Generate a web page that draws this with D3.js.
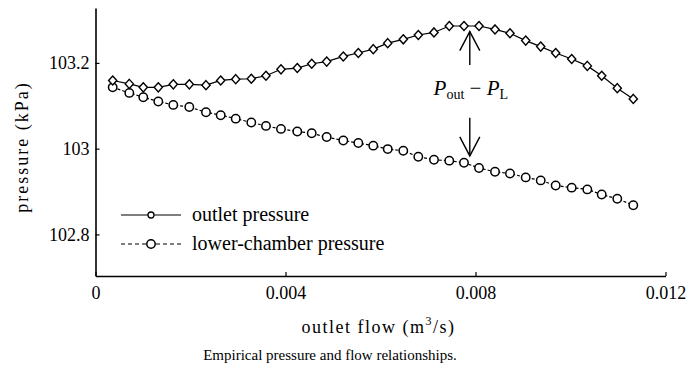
<!DOCTYPE html>
<html>
<head>
<meta charset="utf-8">
<script src="https://cdn.jsdelivr.net/npm/d3@7"></script>
<style>
  html, body { margin: 0; padding: 0; background: #fff; }
  svg { display: block; }
  svg text { font-family: "Liberation Serif", "Times New Roman", serif; fill: #000; }
  .tick text { font-size: 18px; }
  .ytitle { font-size: 18px; letter-spacing: 2px; }
  .xtitle { font-size: 18px; letter-spacing: 1.5px; }
  .caption { font-size: 15px; }
  .legend text { font-size: 20px; }
  .note { font-size: 21px; }
</style>
</head>
<body>
<svg id="chart" width="689" height="369"></svg>
<script>
// Outlet flow (m^3/s) at each measurement
const flow = [0.000362, 0.000712, 0.001006, 0.001322, 0.001638, 0.001975, 0.002326, 0.002636, 0.002952,
  0.003280, 0.003589, 0.003905, 0.004248, 0.004552, 0.004867, 0.005217, 0.005533, 0.005848, 0.006152,
  0.006480, 0.006796, 0.007126, 0.007448, 0.007758, 0.008074, 0.008411, 0.008726, 0.009057, 0.009373,
  0.009688, 0.010025, 0.010354, 0.010657, 0.010985, 0.011322];

// Outlet pressure (kPa)
const outletPressure = [103.159, 103.151, 103.143, 103.143, 103.150, 103.150, 103.148, 103.159, 103.162,
  103.163, 103.170, 103.185, 103.188, 103.198, 103.203, 103.215, 103.223, 103.232, 103.246,
  103.255, 103.265, 103.271, 103.286, 103.286, 103.286, 103.278, 103.269, 103.252, 103.238,
  103.223, 103.209, 103.193, 103.170, 103.141, 103.116];

// Lower-chamber pressure (kPa)
const lowerPressure = [103.143, 103.130, 103.120, 103.110, 103.102, 103.097, 103.085, 103.078, 103.070,
  103.061, 103.053, 103.046, 103.040, 103.036, 103.027, 103.019, 103.013, 103.007, 102.999,
  102.995, 102.981, 102.974, 102.972, 102.967, 102.955, 102.946, 102.942, 102.933, 102.926,
  102.914, 102.909, 102.905, 102.893, 102.883, 102.868];

const xTicks = [0, 0.004, 0.008, 0.012];
const xTickLabels = ["0", "0.004", "0.008", "0.012"];
const yTicks = [102.8, 103, 103.2];
const yTickLabels = ["102.8", "103", "103.2"];

const seriesNames = ["outlet pressure", "lower-chamber pressure"];

// Pressure-difference annotation: arrow x and the ends of both arrows (kPa)
const noteFlow = 0.00788;
const upArrow = [103.195, 103.273];    // tail, tip
const downArrow = [103.072, 102.983];  // tail, tip
const noteLevel = 103.125;

const svg = d3.select("#chart");
svg.append("rect").attr("width", 689).attr("height", 369).attr("fill", "#fff");

const x = d3.scaleLinear().domain([0, 0.012]).range([95.5, 665.5]);
const y = d3.scaleLinear().domain([102.703, 103.328]).range([276, 8]);

// Axes with inward ticks
const xAxis = d3.axisBottom(x)
  .tickValues(xTicks)
  .tickFormat((d, i) => xTickLabels[i])
  .tickSizeInner(-4).tickSizeOuter(0).tickPadding(10);
const yAxis = d3.axisLeft(y)
  .tickValues(yTicks)
  .tickFormat((d, i) => yTickLabels[i])
  .tickSizeInner(-4).tickSizeOuter(0).tickPadding(6);

const gx = svg.append("g").attr("transform", `translate(0,${y.range()[0]})`).call(xAxis);
const gy = svg.append("g").attr("transform", `translate(${x.range()[0]},0)`).call(yAxis);
[gx, gy].forEach(g => {
  g.attr("font-family", null).attr("font-size", null);
  g.select(".domain").attr("stroke", "#000").attr("stroke-width", 1.6);
  g.selectAll(".tick line").attr("stroke", "#000").attr("stroke-width", 1.2);
});

// Axis titles
svg.append("text")
  .attr("class", "ytitle")
  .attr("transform", `translate(28,${(y.range()[0] + y.range()[1]) / 2 + 5}) rotate(-90)`)
  .attr("text-anchor", "middle")
  .text("pressure (kPa)");

const xt = svg.append("text")
  .attr("class", "xtitle")
  .attr("x", (x.range()[0] + x.range()[1]) / 2 - 2)
  .attr("y", 333)
  .attr("text-anchor", "middle");
xt.append("tspan").text("outlet flow  (m");
xt.append("tspan").attr("dy", -8).style("font-size", "12px").text("3");
xt.append("tspan").attr("dy", 8).text("/s)");

// Caption
svg.append("text")
  .attr("class", "caption")
  .attr("x", 330).attr("y", 360)
  .attr("text-anchor", "middle")
  .text("Empirical pressure and flow relationships.");

const pts = flow.map((f, i) => ({ f, out: outletPressure[i], low: lowerPressure[i] }));

// Lower-chamber series: dashed line with open circles
svg.append("path")
  .datum(pts)
  .attr("fill", "none").attr("stroke", "#000").attr("stroke-width", 1.2)
  .attr("stroke-dasharray", "3,2")
  .attr("d", d3.line().x(d => x(d.f)).y(d => y(d.low)));

// Outlet series: solid line with open diamonds
svg.append("path")
  .datum(pts)
  .attr("fill", "none").attr("stroke", "#000").attr("stroke-width", 1.2)
  .attr("d", d3.line().x(d => x(d.f)).y(d => y(d.out)));

// Square-proportioned diamond marker
const squareDiamond = {
  draw(ctx, size) {
    const r = Math.sqrt(size / 2);
    ctx.moveTo(0, -r * 1.1);
    ctx.lineTo(r, 0);
    ctx.lineTo(0, r * 1.1);
    ctx.lineTo(-r, 0);
    ctx.closePath();
  }
};
const diamond = d3.symbol().type(squareDiamond).size(34);

svg.append("g").selectAll("circle")
  .data(pts).join("circle")
  .attr("cx", d => x(d.f)).attr("cy", d => y(d.low)).attr("r", 4.2)
  .attr("fill", "#fff").attr("stroke", "#000").attr("stroke-width", 1.5);

svg.append("g").selectAll("path")
  .data(pts).join("path")
  .attr("d", diamond)
  .attr("transform", d => `translate(${x(d.f)},${y(d.out)})`)
  .attr("fill", "#fff").attr("stroke", "#000").attr("stroke-width", 1.4);

// Legend
const legend = svg.append("g").attr("class", "legend");
const legY = [215, 244];
seriesNames.forEach((name, i) => {
  const g = legend.append("g").attr("transform", `translate(0,${legY[i]})`);
  g.append("line").attr("x1", 121).attr("x2", 181).attr("y1", 0).attr("y2", 0)
    .attr("stroke", "#000").attr("stroke-width", 1.2)
    .attr("stroke-dasharray", i === 1 ? "4,3" : null);
  g.append("circle").attr("cx", 151).attr("cy", 0).attr("r", i === 0 ? 3 : 4.2)
    .attr("fill", "#fff").attr("stroke", "#000").attr("stroke-width", i === 0 ? 1.3 : 1.5);
  g.append("text").attr("x", 192).attr("y", 6).text(name);
});

// Annotation arrows
const ax = x(noteFlow);
function arrow(tail, tip) {
  const yt = y(tail), yp = y(tip);
  const dir = yp < yt ? 1 : -1;
  svg.append("line").attr("x1", ax).attr("x2", ax).attr("y1", yt).attr("y2", yp)
    .attr("stroke", "#000").attr("stroke-width", 1.4);
  svg.append("path")
    .attr("d", `M${ax - 10},${yp + dir * 19}L${ax},${yp}L${ax + 10},${yp + dir * 19}`)
    .attr("fill", "none").attr("stroke", "#000").attr("stroke-width", 1.4);
}
arrow(upArrow[0], upArrow[1]);
arrow(downArrow[0], downArrow[1]);

const note = svg.append("text")
  .attr("class", "note")
  .attr("x", ax + 1).attr("y", y(noteLevel))
  .attr("text-anchor", "middle");
note.append("tspan").style("font-style", "italic").text("P");
note.append("tspan").style("font-size", "14px").attr("dy", 4).text("out");
note.append("tspan").attr("dy", -4).text(" \u2212 ");
note.append("tspan").style("font-style", "italic").text("P");
note.append("tspan").style("font-size", "14px").attr("dy", 4).text("L");
</script>
</body>
</html>
